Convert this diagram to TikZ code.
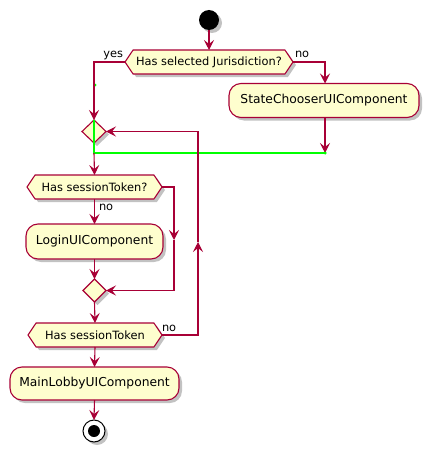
\documentclass[tikz,border=0pt]{standalone}
\usepackage{fontspec}
\setmainfont{DejaVu Sans}
\usepackage{xcolor}
\definecolor{umlred}{HTML}{A80036}
\definecolor{umlfill}{HTML}{FEFECE}
\definecolor{umlgreen}{HTML}{00FF00}
\usepackage{tikz}
\usetikzlibrary{shapes.symbols}
\usetikzlibrary{shapes.geometric}
\usetikzlibrary{arrows.meta}
\usetikzlibrary{shadows}

\begin{document}
\begin{tikzpicture}[x=1pt,y=-1pt,
every node/.style={font=\fontsize{12.3}{14}\selectfont,inner sep=0pt,outer sep=0pt,align=center},
umlshadow/.style={drop shadow={shadow xshift=3pt,shadow yshift=-3pt,opacity=.4,fill=black!60}},
action/.style={draw=umlred,fill=umlfill,line width=1.1pt,rounded corners=12pt,minimum height=34pt,umlshadow},
decision/.style={signal,signal to=east and west,signal pointer angle=112,draw=umlred,fill=umlfill,line width=1.1pt,minimum height=24pt,font=\fontsize{11.4}{13}\selectfont,umlshadow},
merge/.style={diamond,draw=umlred,fill=umlfill,line width=1.1pt,minimum width=24pt,minimum height=23pt,umlshadow},
flow/.style={draw=umlred,line width=1.1pt,-{Stealth[length=10pt,width=10pt,inset=4pt]}},
greenflow/.style={draw=umlgreen,line width=1.1pt},
gdot/.style={circle,fill=umlgreen,minimum size=3pt},
guard/.style={font=\fontsize{11.4}{13}\selectfont}]
\useasboundingbox (0,0) rectangle (429,452);
\node[circle,fill=black,minimum size=20pt,umlshadow] (start) at (209,20) {};
\node[decision,minimum width=168pt] (jurisdiction) at (209,62) {Has selected Jurisdiction?};
\node[guard,anchor=base east] (yeslabel) at (123,58) {yes};
\node[guard,anchor=base west] (nolabel) at (295,58) {no};
\node[action,minimum width=190pt] (statechooser) at (324,100.5) {StateChooserUIComponent};
\node[gdot] (gdotyes) at (95,85) {};
\node[gdot] (gdotno) at (325,153) {};
\coordinate (gjoin) at (94,153);
\node[merge] (loopmerge) at (94,131.5) {};
\node[decision,minimum width=135pt] (hastoken) at (94.5,187) {Has sessionToken?};
\node[guard,anchor=base west] (nologin) at (99,210) {no};
\node[action,minimum width=137pt,minimum height=35pt] (login) at (94.5,241.5) {LoginUIComponent};
\coordinate (skipdown) at (174,240);
\node[merge,minimum width=23pt] (loginmerge) at (94.5,290.5) {};
\node[decision,minimum width=134pt] (checktoken) at (95,335) {Has sessionToken};
\node[guard,anchor=base west] (noloop) at (162,331) {no};
\coordinate (loopup) at (198,242);
\node[action,minimum width=169pt,minimum height=33pt] (mainlobby) at (94.5,383.5) {MainLobbyUIComponent};
\node[circle,draw=black,fill=white,line width=1pt,minimum size=22pt,umlshadow] (stop) at (94,431) {};
\node[circle,fill=black,minimum size=12pt] (stopdot) at (stop) {};
\draw[flow] (start) -- (jurisdiction);
\draw[flow] (jurisdiction.west) -| (loopmerge.north);
\draw[flow] (jurisdiction.east) -| (gdotno |- statechooser.north);
\draw[flow] (gdotno |- statechooser.south) -- (gdotno.center);
\draw[greenflow] (loopmerge.north) -- (gjoin) -- (gdotno.center);
\node[gdot] at (gdotno) {};
\draw[flow] (gjoin) -- (hastoken.north);
\draw[flow] (hastoken.south) -- (login.north);
\draw[flow] (hastoken.east) -| (skipdown);
\draw[flow] (skipdown) |- (loginmerge.east);
\draw[flow] (login.south) -- (loginmerge.north);
\draw[flow] (loginmerge.south) -- (checktoken.north);
\draw[flow] (checktoken.east) -| (loopup);
\draw[flow] (loopup) |- (loopmerge.east);
\draw[flow] (checktoken.south) -- (mainlobby.north);
\draw[flow] (mainlobby.south) -- (stop.north);
\end{tikzpicture}
\end{document}
